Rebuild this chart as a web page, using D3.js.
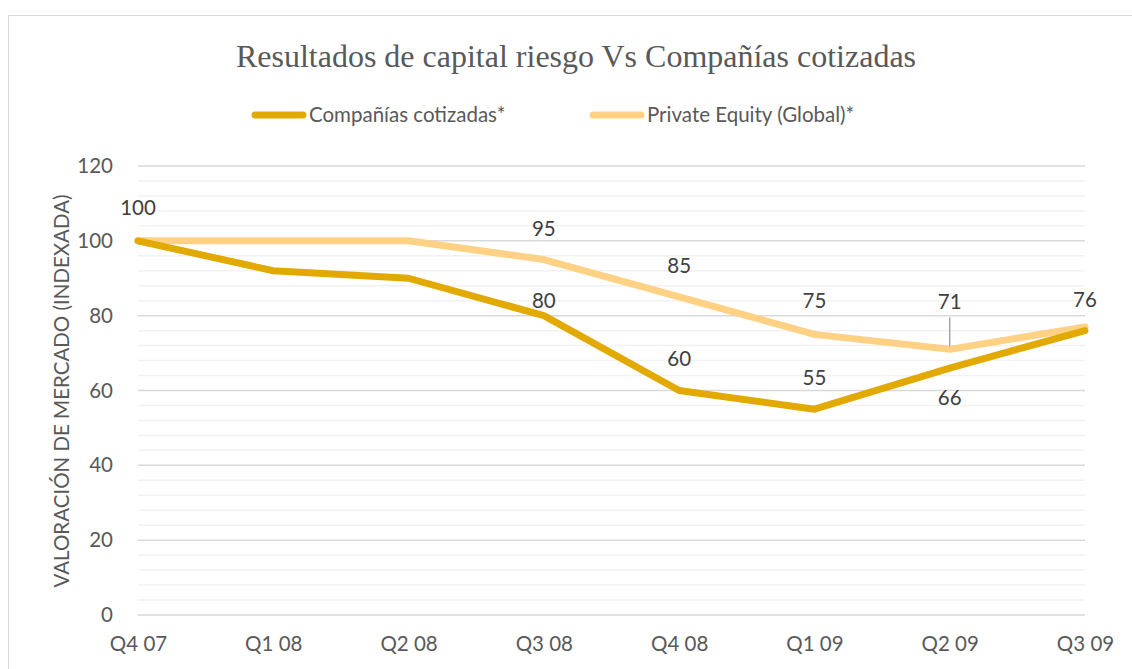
<!DOCTYPE html>
<html>
<head>
<meta charset="utf-8">
<script src="https://cdn.jsdelivr.net/npm/d3@7"></script>
<style>
  html, body { margin: 0; padding: 0; background: #fff; }
  svg { display: block; }
</style>
</head>
<body>
<div id="chart"></div>
<script>
// datos del gráfico
const quarters = ["Q4 07", "Q1 08", "Q2 08", "Q3 08", "Q4 08", "Q1 09", "Q2 09", "Q3 09"];
const cotizadas = [100, 92, 90, 80, 60, 55, 66, 76];
const privateEquity = [100, 100, 100, 95, 85, 75, 71, 77];
// etiquetas visibles (null = sin etiqueta)
const cotizadasLabels = [100, null, null, 80, 60, 55, 66, 76];
const peLabels = [null, null, null, 95, 85, 75, 71, null];
const yTicks = [0, 20, 40, 60, 80, 100, 120];

const W = 1132, H = 669;
const colCot = "#E2AA00", colPE = "#FFD185";
const font = "Lato, 'Open Sans', sans-serif";
const fs = 20.5;

// desplazamiento vertical de las etiquetas (px respecto al punto)
const cotOffset = [-26, 0, 0, -8, -25, -24, 37, -24];
const peOffset = [0, 0, 0, -24, -24, -26, -40, 0];

const svg = d3.select("#chart").append("svg")
  .attr("width", W).attr("height", H);

// marco del gráfico
svg.append("rect")
  .attr("x", 8.5).attr("y", 15.5)
  .attr("width", W).attr("height", H)
  .attr("fill", "#fff").attr("stroke", "#d9d9d9").attr("stroke-width", 1);

const x = d3.scalePoint().domain(quarters).range([138, 1085]);
const y = d3.scaleLinear().domain([0, 120]).range([615, 166]);

// líneas de cuadrícula secundarias
svg.append("g").selectAll("line")
  .data(d3.range(0, 121, 4).filter(v => v % 20 !== 0))
  .join("line")
  .attr("x1", 138).attr("x2", 1085)
  .attr("y1", d => y(d)).attr("y2", d => y(d))
  .attr("stroke", "#f2f2f2").attr("stroke-width", 1.5);

// líneas de cuadrícula principales
svg.append("g").selectAll("line")
  .data(yTicks)
  .join("line")
  .attr("x1", 138).attr("x2", 1085)
  .attr("y1", d => y(d)).attr("y2", d => y(d))
  .attr("stroke", "#d9d9d9").attr("stroke-width", 1.5);

// eje Y
const yAxis = svg.append("g")
  .attr("transform", "translate(138,0)")
  .call(d3.axisLeft(y).tickValues(yTicks).tickSize(0).tickPadding(25));
yAxis.select(".domain").remove();
yAxis.selectAll("text")
  .attr("font-family", font)
  .attr("font-size", fs).attr("fill", "#595959");

// eje X
const xAxis = svg.append("g")
  .attr("transform", "translate(0,615)")
  .call(d3.axisBottom(x).tickSize(0).tickPadding(21));
xAxis.select(".domain").remove();
xAxis.selectAll("text")
  .attr("font-family", font)
  .attr("font-size", fs).attr("fill", "#595959");

// título del eje Y
svg.append("text")
  .attr("transform", "translate(69,391) rotate(-90)")
  .attr("text-anchor", "middle")
  .attr("font-family", font)
  .attr("font-size", fs).attr("fill", "#595959")
  .text("VALORACIÓN DE MERCADO (INDEXADA)");

// título
svg.append("text")
  .attr("x", 576).attr("y", 67)
  .attr("text-anchor", "middle")
  .attr("font-family", "'Liberation Serif', 'Times New Roman', serif")
  .attr("font-size", 32).attr("fill", "#595959")
  .text("Resultados de capital riesgo Vs Compañías cotizadas");

// series
const line = d3.line().x((d, i) => x(quarters[i])).y(d => y(d));

svg.append("path").datum(privateEquity)
  .attr("d", line).attr("fill", "none")
  .attr("stroke", colPE).attr("stroke-width", 7)
  .attr("stroke-linejoin", "round").attr("stroke-linecap", "round");

svg.append("path").datum(cotizadas)
  .attr("d", line).attr("fill", "none")
  .attr("stroke", colCot).attr("stroke-width", 7)
  .attr("stroke-linejoin", "round").attr("stroke-linecap", "round");

// línea guía de la etiqueta 71
const iLead = 6;
svg.append("line")
  .attr("x1", x(quarters[iLead])).attr("x2", x(quarters[iLead]))
  .attr("y1", y(privateEquity[iLead]) - 32).attr("y2", y(privateEquity[iLead]) - 3)
  .attr("stroke", "#a6a6a6").attr("stroke-width", 1.5);

// etiquetas de datos
function addLabels(values, labels, offsets) {
  svg.append("g").selectAll("text")
    .data(labels.map((l, i) => ({ l, i })).filter(d => d.l !== null))
    .join("text")
    .attr("x", d => x(quarters[d.i]))
    .attr("y", d => y(values[d.i]) + offsets[d.i])
    .attr("text-anchor", "middle")
    .attr("font-family", font)
    .attr("font-size", fs).attr("fill", "#404040")
    .text(d => d.l);
}
addLabels(privateEquity, peLabels, peOffset);
addLabels(cotizadas, cotizadasLabels, cotOffset);

// leyenda
const legend = [
  { name: "Compañías cotizadas*", color: colCot, x: 253 },
  { name: "Private Equity (Global)*", color: colPE, x: 591 }
];
const lg = svg.append("g").selectAll("g").data(legend).join("g")
  .attr("transform", d => `translate(${d.x},115)`);
lg.append("line")
  .attr("x1", 2).attr("x2", 50)
  .attr("stroke", d => d.color).attr("stroke-width", 7)
  .attr("stroke-linecap", "round");
lg.append("text")
  .attr("x", 56).attr("y", 7)
  .attr("font-family", font)
  .attr("font-size", fs).attr("fill", "#595959")
  .text(d => d.name);
</script>
</body>
</html>
